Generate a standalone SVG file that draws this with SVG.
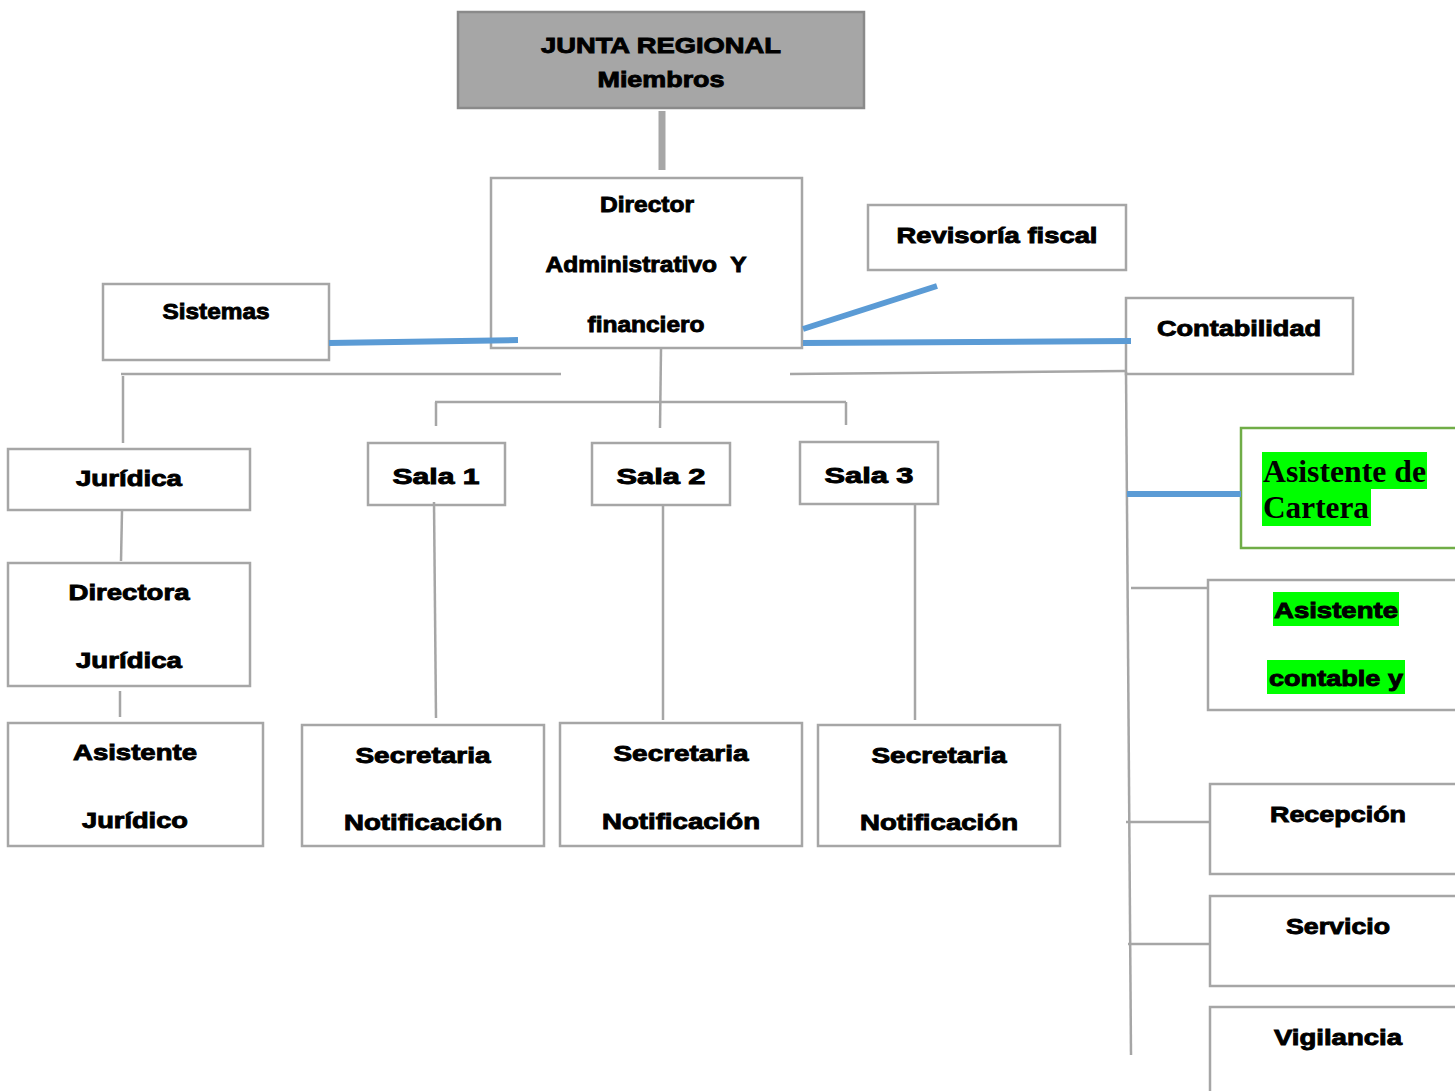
<svg xmlns="http://www.w3.org/2000/svg" width="1455" height="1091" viewBox="0 0 1455 1091">
<style>
.box{fill:#fff;stroke:#a6a6a6;stroke-width:2.5}
.t{font-family:"Liberation Sans",Arial,sans-serif;font-weight:bold;fill:#000;stroke:#000;stroke-width:0.9;text-anchor:middle;font-size:22px;white-space:pre}
.s{font-family:"Liberation Serif","Times New Roman",serif;font-weight:bold;fill:#000;font-size:32px}
.g{fill:none;stroke:#a6a6a6;stroke-width:2.5}
.b{fill:none;stroke:#5b9bd5;stroke-width:6}
.hl{fill:#00ff00}
</style>
<rect width="1455" height="1091" fill="#fff"/>
<g id="junta">
<rect x="458" y="12" width="406" height="96" fill="#a6a6a6" stroke="#8a8a8a" stroke-width="2.5"/>
<text class="t" x="661" y="53" font-size="20" textLength="240" lengthAdjust="spacingAndGlyphs">JUNTA REGIONAL</text>
<text class="t" x="661" y="87" font-size="21" textLength="127" lengthAdjust="spacingAndGlyphs">Miembros</text>
</g>
<g id="director">
<rect class="box" x="491" y="178" width="311" height="170"/>
<text class="t" x="647" y="212" font-size="19" textLength="94" lengthAdjust="spacingAndGlyphs">Director</text>
<text class="t" x="646" y="272" font-size="19" textLength="201" lengthAdjust="spacingAndGlyphs" xml:space="preserve">Administrativo  Y</text>
<text class="t" x="646" y="332" font-size="19" textLength="117" lengthAdjust="spacingAndGlyphs">financiero</text>
</g>
<g id="revisoria">
<rect class="box" x="868" y="205" width="258" height="65"/>
<text class="t" x="997" y="243" font-size="21" textLength="201" lengthAdjust="spacingAndGlyphs">Revisoría fiscal</text>
</g>
<g id="sistemas">
<rect class="box" x="103" y="284" width="226" height="76"/>
<text class="t" x="216" y="319" font-size="19" textLength="107" lengthAdjust="spacingAndGlyphs">Sistemas</text>
</g>
<g id="contabilidad">
<rect class="box" x="1126" y="298" width="227" height="76"/>
<text class="t" x="1239" y="336" font-size="22" textLength="164" lengthAdjust="spacingAndGlyphs">Contabilidad</text>
</g>
<g id="juridica">
<rect class="box" x="8" y="449" width="242" height="61"/>
<text class="t" x="129" y="486" font-size="21" textLength="106" lengthAdjust="spacingAndGlyphs">Jurídica</text>
</g>
<g id="directora">
<rect class="box" x="8" y="563" width="242" height="123"/>
<text class="t" x="129" y="600" font-size="21" textLength="121" lengthAdjust="spacingAndGlyphs">Directora</text>
<text class="t" x="129" y="668" font-size="21" textLength="106" lengthAdjust="spacingAndGlyphs">Jurídica</text>
</g>
<g id="asistente-juridico">
<rect class="box" x="8" y="723" width="255" height="123"/>
<text class="t" x="135" y="760" font-size="21" textLength="124" lengthAdjust="spacingAndGlyphs">Asistente</text>
<text class="t" x="135" y="828" font-size="21" textLength="106" lengthAdjust="spacingAndGlyphs">Jurídico</text>
</g>
<g id="sala1">
<rect class="box" x="368" y="443" width="137" height="62"/>
<text class="t" x="436" y="484" font-size="26" textLength="87" lengthAdjust="spacingAndGlyphs">Sala 1</text>
</g>
<g id="sala2">
<rect class="box" x="592" y="443" width="138" height="62"/>
<text class="t" x="661" y="484" font-size="26" textLength="89" lengthAdjust="spacingAndGlyphs">Sala 2</text>
</g>
<g id="sala3">
<rect class="box" x="800" y="442" width="138" height="62"/>
<text class="t" x="869" y="483" font-size="26" textLength="89" lengthAdjust="spacingAndGlyphs">Sala 3</text>
</g>
<g id="secretaria1">
<rect class="box" x="302" y="725" width="242" height="121"/>
<text class="t" x="423" y="763" font-size="21" textLength="135" lengthAdjust="spacingAndGlyphs">Secretaria</text>
<text class="t" x="423" y="830" font-size="21" textLength="158" lengthAdjust="spacingAndGlyphs">Notificación</text>
</g>
<g id="secretaria2">
<rect class="box" x="560" y="723" width="242" height="123"/>
<text class="t" x="681" y="761" font-size="21" textLength="135" lengthAdjust="spacingAndGlyphs">Secretaria</text>
<text class="t" x="681" y="829" font-size="21" textLength="158" lengthAdjust="spacingAndGlyphs">Notificación</text>
</g>
<g id="secretaria3">
<rect class="box" x="818" y="725" width="242" height="121"/>
<text class="t" x="939" y="763" font-size="21" textLength="135" lengthAdjust="spacingAndGlyphs">Secretaria</text>
<text class="t" x="939" y="830" font-size="21" textLength="158" lengthAdjust="spacingAndGlyphs">Notificación</text>
</g>
<g id="asistente-cartera">
<rect x="1241" y="428" width="230" height="120" fill="#fff" stroke="#70ad47" stroke-width="2.5"/>
<rect class="hl" x="1262" y="452" width="165" height="37"/>
<rect class="hl" x="1262" y="489" width="109" height="37"/>
<text class="s" x="1263" y="482" textLength="163" lengthAdjust="spacingAndGlyphs">Asistente de</text>
<text class="s" x="1263" y="518" textLength="106" lengthAdjust="spacingAndGlyphs">Cartera</text>
</g>
<g id="asistente-contable">
<rect class="box" x="1208" y="580" width="260" height="130"/>
<rect class="hl" x="1273" y="592" width="126" height="34"/>
<rect class="hl" x="1267" y="660" width="138" height="34"/>
<text class="t" x="1336" y="618" font-size="21" textLength="124" lengthAdjust="spacingAndGlyphs">Asistente</text>
<text class="t" x="1336" y="686" font-size="21" textLength="134" lengthAdjust="spacingAndGlyphs">contable y</text>
</g>
<g id="recepcion">
<rect class="box" x="1210" y="784" width="260" height="90"/>
<text class="t" x="1338" y="822" font-size="21" textLength="136" lengthAdjust="spacingAndGlyphs">Recepción</text>
</g>
<g id="servicio">
<rect class="box" x="1210" y="896" width="260" height="90"/>
<text class="t" x="1338" y="934" font-size="21" textLength="104" lengthAdjust="spacingAndGlyphs">Servicio</text>
</g>
<g id="vigilancia">
<rect class="box" x="1210" y="1007" width="260" height="100"/>
<text class="t" x="1338" y="1045" font-size="21" textLength="128" lengthAdjust="spacingAndGlyphs">Vigilancia</text>
</g>
<g id="connectors">
<line x1="662" y1="111" x2="662" y2="170" stroke="#a6a6a6" stroke-width="7"/>
<line class="b" x1="803" y1="329" x2="937" y2="286"/>
<line class="b" x1="329" y1="343" x2="518" y2="340"/>
<line class="b" x1="803" y1="343" x2="1131" y2="341"/>
<line class="g" x1="661" y1="349" x2="660" y2="428"/>
<line class="g" x1="121" y1="374" x2="561" y2="374"/>
<line class="g" x1="790" y1="374" x2="1126" y2="371"/>
<line class="g" x1="123" y1="376" x2="123" y2="443"/>
<line class="g" x1="435" y1="402" x2="846" y2="402"/>
<line class="g" x1="436" y1="402" x2="436" y2="426"/>
<line class="g" x1="846" y1="402" x2="846" y2="425"/>
<line class="g" x1="122" y1="511" x2="121" y2="561"/>
<line class="g" x1="120" y1="691" x2="120" y2="717"/>
<line class="g" x1="434" y1="502" x2="436" y2="718"/>
<line class="g" x1="663" y1="505" x2="663" y2="720"/>
<line class="g" x1="915" y1="505" x2="915" y2="720"/>
<line class="g" x1="1126" y1="372" x2="1131" y2="1055"/>
<line class="b" x1="1127" y1="494" x2="1241" y2="494"/>
<line class="g" x1="1131" y1="588" x2="1208" y2="588"/>
<line class="g" x1="1126" y1="822" x2="1210" y2="822"/>
<line class="g" x1="1128" y1="944" x2="1210" y2="944"/>
</g>
</svg>
